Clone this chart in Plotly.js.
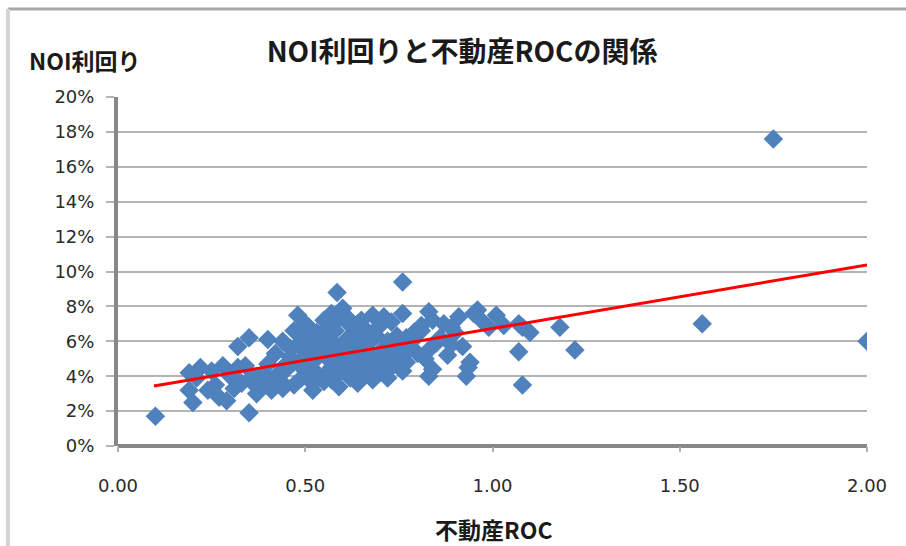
<!DOCTYPE html>
<html>
<head>
<meta charset="utf-8">
<script src="https://cdn.plot.ly/plotly-3.0.1.min.js"></script>
<style>html,body{margin:0;padding:0;background:#fff;}#chart{width:906px;height:546px;}</style>
</head>
<body>
<div id="chart"></div>
<script>
// 不動産ROC (x) と NOI利回り (%) (y)
const roc = [
  0.10,0.35,1.75,2.00,1.56,1.18,1.22,1.08,1.07,1.10,1.08,0.76,0.585,0.83,0.91,0.95,1.01,0.96,0.89,0.83,
  0.88,0.92,0.84,0.935,0.93,0.94,1.07,0.81,0.75,0.73,0.77,0.76,
  0.19,0.22,0.28,0.32,0.19,0.20,0.24,0.27,0.29,0.33,0.37,0.41,0.43,0.39,0.36,0.32,0.35,0.40,
  0.44,0.21,0.25,0.30,0.34,0.40,0.42,0.46,0.47,0.45,0.40,0.44,0.37,0.31,0.26,
  0.48,0.57,0.61,0.65,0.71,0.51,0.56,0.49,0.64,0.69,0.79,0.745,0.52,0.61,0.655,0.59,0.77,0.56,0.49,0.44,
  0.53,0.58,0.655,0.52,0.44,0.73,0.64,0.82,0.83,0.54,0.58,0.62,0.66,0.70,0.73,0.68,0.60,0.55,0.50,0.47,
  0.53,0.57,0.61,0.64,0.67,0.71,0.74,0.78,0.80,0.76,0.72,0.69,0.63,0.60,0.55,0.50,0.48,0.46,0.52,0.57,
  0.62,0.66,0.70,0.68,0.61,0.55,0.49,0.47,0.59,0.62,0.71,0.75,0.79,0.81,0.84,0.87,0.90,0.86,0.97,0.99,
  1.03,0.85,0.89,
  0.51,0.54,0.58,0.63,0.67,0.72,0.56,0.60,0.65,0.69,0.74,0.52,0.57,0.63,0.67,0.72,0.76,0.50,0.58,0.64
];
const noi = [
  1.7,1.9,17.6,6.0,7.0,6.8,5.5,3.5,5.4,6.5,6.8,9.4,8.8,7.7,7.4,7.6,7.5,7.8,6.8,5.5,
  5.2,5.7,4.4,4.5,4.0,4.8,7.0,6.6,4.75,4.9,6.2,7.6,
  4.2,4.5,4.6,4.5,3.2,2.5,3.2,2.8,2.6,3.6,3.4,3.2,4.2,4.2,4.0,5.7,6.2,6.1,
  6.0,3.9,4.3,4.0,4.6,4.7,5.3,5.6,4.8,4.4,3.8,3.6,3.0,3.3,3.5,
  7.5,7.6,7.4,7.2,7.4,6.8,6.8,6.3,6.3,6.3,6.5,6.3,5.7,5.5,5.0,5.0,4.8,5.0,4.6,4.5,
  4.2,4.0,4.0,3.2,3.3,4.5,3.6,5.0,4.0,6.2,6.6,6.9,6.7,6.9,7.1,7.5,7.9,7.2,7.0,6.6,
  6.5,6.0,6.1,5.8,5.9,5.6,5.8,5.6,5.3,5.3,5.2,5.0,5.2,5.7,5.5,5.2,5.8,5.1,4.8,4.5,
  4.7,4.4,4.2,3.8,4.2,3.7,3.9,3.5,3.4,3.9,4.7,5.0,6.1,6.9,7.2,7.0,6.5,6.2,7.2,6.8,
  6.9,5.9,5.8,
  6.0,5.4,5.3,5.5,5.4,6.0,4.2,4.6,4.8,4.6,5.4,3.6,3.8,4.4,4.1,3.9,4.3,4.3,7.1,7.0
];
// 線形近似 (trend line endpoints)
const trendX = [0.096, 2.0];
const trendY = [3.44, 10.37];

const yTicks = [0,2,4,6,8,10,12,14,16,18,20];
const yTickText = ['0%','2%','4%','6%','8%','10%','12%','14%','16%','18%','20%'];
const xTicks = [0,0.5,1.0,1.5,2.0];
const xTickText = ['0.00','0.50','1.00','1.50','2.00'];

const titleText = 'NOI利回りと不動産ROCの関係';
const yTitle = 'NOI利回り';
const xTitle = '不動産ROC';

const cjk = '"Noto Sans CJK JP", "Noto Sans", sans-serif';

const data = [
  {x: roc, y: noi, type: 'scatter', mode: 'markers',
   marker: {symbol: 'diamond', size: 15, color: '#4f81bd', line: {width: 0}},
   hoverinfo: 'x+y'},
  {x: trendX, y: trendY, type: 'scatter', mode: 'lines',
   line: {color: '#ff0000', width: 3}, hoverinfo: 'skip'}
];

const layout = {
  width: 906, height: 546,
  margin: {l: 118, r: 39, t: 97, b: 100},
  paper_bgcolor: '#ffffff', plot_bgcolor: '#ffffff',
  showlegend: false,
  title: {text: titleText, font: {family: cjk, size: 28, color: '#1a1a1a', weight: 'bold'},
          x: 0.51, xanchor: 'center', y: 0.905, yanchor: 'middle', yref: 'container'},
  xaxis: {range: [0, 2.0], tickvals: xTicks, ticktext: xTickText,
          showgrid: false, zeroline: false,
          showline: false, ticks: 'outside', ticklen: 5, tickcolor: '#b0b0b0', tickwidth: 2,
          tickfont: {family: '"DejaVu Sans", sans-serif', size: 18, color: '#2a2a2a'},
          ticklabelstandoff: 18},
  yaxis: {range: [0, 20], tickvals: yTicks, ticktext: yTickText,
          showgrid: true, gridcolor: '#b4b4b4', gridwidth: 2,
          zeroline: true, zerolinecolor: '#878787', zerolinewidth: 4,
          showline: true, linecolor: '#878787', linewidth: 4,
          ticks: 'outside', ticklen: 8, tickcolor: '#b4b4b4', tickwidth: 2,
          tickfont: {family: '"DejaVu Sans", sans-serif', size: 18, color: '#2a2a2a'},
          ticklabelstandoff: 8},
  annotations: [
    {text: yTitle, xref: 'paper', yref: 'paper', x: -0.122, y: 1.106,
     xanchor: 'left', yanchor: 'middle', showarrow: false,
     font: {family: cjk, size: 23, color: '#1a1a1a', weight: 'bold'}},
    {text: xTitle, xref: 'paper', yref: 'paper', x: 0.502, y: -0.238,
     xanchor: 'center', yanchor: 'middle', showarrow: false,
     font: {family: cjk, size: 23, color: '#1a1a1a', weight: 'bold'}}
  ],
  shapes: [
    {type: 'line', xref: 'paper', yref: 'paper', x0: -0.1469, x1: 1.06, y0: 1.252, y1: 1.252,
     line: {color: '#a8a8a8', width: 3}},
    {type: 'line', xref: 'paper', yref: 'paper', x0: -0.1469, x1: -0.1469, y0: 1.252, y1: -0.30,
     line: {color: '#d4d4d4', width: 4}}
  ]
};

Plotly.newPlot('chart', data, layout, {displayModeBar: false, staticPlot: true});
</script>
</body>
</html>
